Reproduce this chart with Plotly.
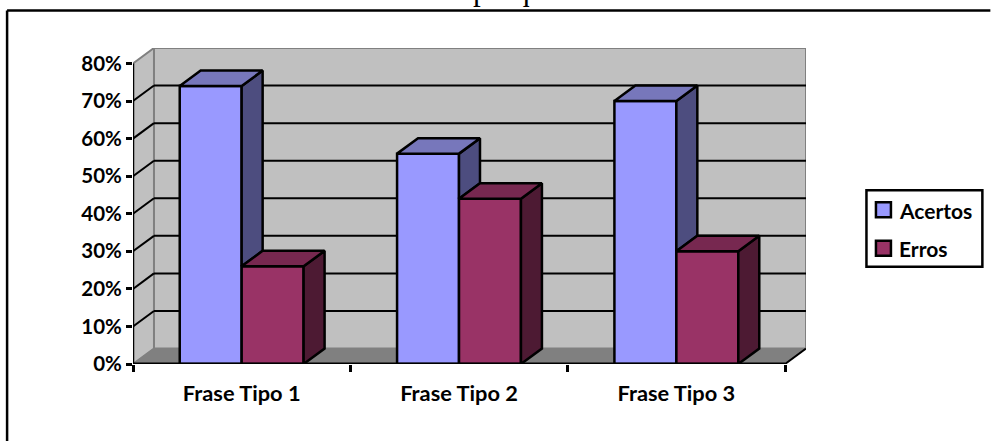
import plotly.graph_objects as go

# Survey results per sentence type (percent)
categories = ["Frase Tipo 1", "Frase Tipo 2", "Frase Tipo 3"]
acertos = [74, 56, 70]
erros = [26, 44, 30]
series_names = ["Acertos", "Erros"]
y_ticks = [0, 10, 20, 30, 40, 50, 60, 70, 80]
y_labels = ["0%", "10%", "20%", "30%", "40%", "50%", "60%", "70%", "80%"]

# Pseudo-3D depth of the box, in axis units
DX = 0.0965
DY = 4.12
YMAX = 80
BAR = 0.285

LEFT, RIGHT, TOP, BOTTOM = 133, 806.5, 47.5, 364
W, H = 991, 441
LABEL_FONT = dict(family="Lato", size=20.5, color="black", weight="bold")

COL_A = dict(front="#9999FF", top="#7777BB", side="#4D4D7F")
COL_E = dict(front="#993366", top="#772850", side="#4D1A33")
LINE = dict(color="black", width=2.5)


def px(x):
    return (x - LEFT) / (RIGHT - LEFT)


def py(y):
    return (BOTTOM - y) / (BOTTOM - TOP)


def poly(xs, ys, fill, line="#000000", width=2, layer="below"):
    path = "M" + "L".join(f"{a},{b}" for a, b in zip(xs, ys)) + "Z"
    return dict(type="path", path=path, xref="x", yref="y", fillcolor=fill,
                line=dict(color=line, width=width), layer=layer)


def seg(x0, y0, x1, y1, color="black", width=2, layer="below"):
    return dict(type="line", x0=x0, y0=y0, x1=x1, y1=y1, xref="x", yref="y",
                line=dict(color=color, width=width), layer=layer)


def page_rect(x0, y0, x1, y1, fill, width=2.5):
    return dict(type="rect", xref="paper", yref="paper", x0=px(x0), x1=px(x1), y0=py(y0), y1=py(y1),
                fillcolor=fill, line=dict(color="black", width=width), layer="above")


def face(xs, ys, fill):
    return go.Scatter(x=xs, y=ys, mode="lines", fill="toself", fillcolor=fill,
                      line=LINE, showlegend=False, hoverinfo="skip", cliponaxis=False)


centers = [i + 0.5 for i in range(len(categories))]
XEND = len(categories)

shapes = [
    # back wall, side wall and floor of the box
    poly([DX, XEND + DX, XEND + DX, DX], [DY, DY, YMAX + DY, YMAX + DY], "#C0C0C0", "#808080"),
    poly([0, DX, DX, 0], [0, DY, YMAX + DY, YMAX], "#C0C0C0", "#808080"),
    poly([0, XEND, XEND + DX, DX], [0, 0, DY, DY], "#808080", "#808080", 1),
]
for v in y_ticks[1:-1]:
    shapes.append(seg(DX, v + DY, XEND + DX, v + DY))
    shapes.append(seg(0, v, DX, v + DY))
shapes += [
    seg(0, 0, 0, YMAX, width=2.5),
    seg(XEND, 0, XEND + DX, DY),
    seg(0, 0, XEND, 0, width=3, layer="above"),
    # outer frame lines of the page
    dict(type="line", xref="paper", yref="paper", x0=px(7), x1=px(991), y0=py(10), y1=py(10),
         line=dict(color="black", width=2.5)),
    dict(type="line", xref="paper", yref="paper", x0=px(7), x1=px(7), y0=py(10), y1=py(441),
         line=dict(color="black", width=2.5)),
    # legend box and colour keys
    page_rect(867, 190, 983, 266.5, "white"),
    page_rect(876.5, 202, 891.5, 217, COL_A["front"]),
    page_rect(876.5, 240.5, 891.5, 255.5, COL_E["front"]),
]

fig = go.Figure()
fig.add_trace(go.Bar(name=series_names[0], x=centers, y=acertos,
                     marker=dict(color=COL_A["front"], line=LINE), showlegend=False))
fig.add_trace(go.Bar(name=series_names[1], x=centers, y=erros,
                     marker=dict(color=COL_E["front"], line=LINE), showlegend=False))

for c, a, e in zip(centers, acertos, erros):
    x0, xm, x1 = c - BAR, c, c + BAR
    # side of the first bar stops where the neighbouring bar's top begins
    low = min(a, e)
    fig.add_trace(face([xm, xm + DX, xm + DX, xm, xm], [a, a + DY, low + DY, low, a], COL_A["side"]))
    fig.add_trace(face([x0, x0 + DX, xm + DX, xm, x0], [a, a + DY, a + DY, a, a], COL_A["top"]))
    fig.add_trace(face([x1, x1 + DX, x1 + DX, x1, x1], [e, e + DY, DY, 0, e], COL_E["side"]))
    fig.add_trace(face([xm, xm + DX, x1 + DX, x1, xm], [e, e + DY, e + DY, e, e], COL_E["top"]))

legend_labels = [
    dict(text=name, xref="paper", yref="paper", x=px(897.5), y=py(yc), xanchor="left", yanchor="middle",
         showarrow=False, font=dict(LABEL_FONT, size=21))
    for name, yc in zip(series_names, [210.5, 248.5])
]

fig.update_layout(
    width=W, height=H, autosize=False, showlegend=False,
    margin=dict(l=LEFT, r=W - RIGHT, t=TOP, b=H - BOTTOM, pad=0),
    paper_bgcolor="white", plot_bgcolor="white",
    barmode="group", bargap=1 - 2 * BAR, bargroupgap=0,
    shapes=shapes,
    xaxis=dict(range=[0, XEND + DX], tickmode="array", tickvals=centers, ticktext=categories,
               ticks="", showgrid=False, zeroline=False, showline=False,
               tickfont=dict(LABEL_FONT, size=21.8), ticklabelstandoff=14,
               minor=dict(tickmode="array", tickvals=list(range(XEND + 1)), ticks="outside",
                          ticklen=7, tickwidth=2.5, tickcolor="black", showgrid=False)),
    yaxis=dict(range=[0, YMAX + DY], tickmode="array", tickvals=y_ticks, ticktext=y_labels,
               ticks="outside", ticklen=6, tickwidth=2.5, tickcolor="black",
               showgrid=False, zeroline=False, showline=False, tickfont=LABEL_FONT),
    annotations=legend_labels + [
        dict(text="Frases pesquisadas", xref="paper", yref="paper", x=px(504), y=py(8),
             xanchor="center", yanchor="bottom", showarrow=False,
             font=dict(family="Liberation Serif", size=31, color="black"))],
)

fig.write_html("out.html", config=dict(displayModeBar=False))
